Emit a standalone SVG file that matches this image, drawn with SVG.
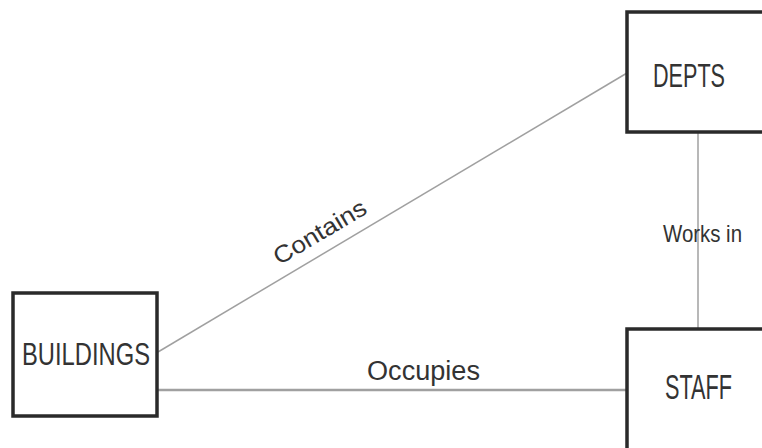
<svg xmlns="http://www.w3.org/2000/svg" width="762" height="448" viewBox="0 0 762 448">
<style>
.box{fill:#fff;stroke:#2a2a2a;stroke-width:3.5}
.lbl{font-family:"Liberation Sans",Arial,sans-serif;fill:#333}
.conn{stroke:#a0a0a0;fill:none}
</style>
<rect width="762" height="448" fill="#fff"/>
<g id="connectors">
<line class="conn" x1="158" y1="352" x2="627" y2="73" stroke-width="1.5"/>
<line class="conn" x1="158" y1="390" x2="627" y2="390" stroke-width="2.5"/>
<line class="conn" x1="698" y1="132" x2="698" y2="329" stroke-width="1.5"/>
<text class="lbl" x="324" y="239" font-size="24" text-anchor="middle" textLength="104" lengthAdjust="spacingAndGlyphs" transform="rotate(-30.7 324 239)">Contains</text>
<text class="lbl" x="367" y="380" font-size="27" textLength="113" lengthAdjust="spacingAndGlyphs">Occupies</text>
<text class="lbl" x="663" y="242" font-size="24" textLength="79" lengthAdjust="spacingAndGlyphs">Works in</text>
</g>
<g id="depts">
<rect class="box" x="627" y="12" width="150" height="120"/>
<text class="lbl" x="653" y="87" font-size="33" textLength="72" lengthAdjust="spacingAndGlyphs">DEPTS</text>
</g>
<g id="buildings">
<rect class="box" x="13" y="293" width="144" height="123"/>
<text class="lbl" x="22" y="365" font-size="32" textLength="128" lengthAdjust="spacingAndGlyphs">BUILDINGS</text>
</g>
<g id="staff">
<rect class="box" x="627" y="329" width="150" height="130"/>
<text class="lbl" x="665" y="399" font-size="35" textLength="67" lengthAdjust="spacingAndGlyphs">STAFF</text>
</g>
</svg>
